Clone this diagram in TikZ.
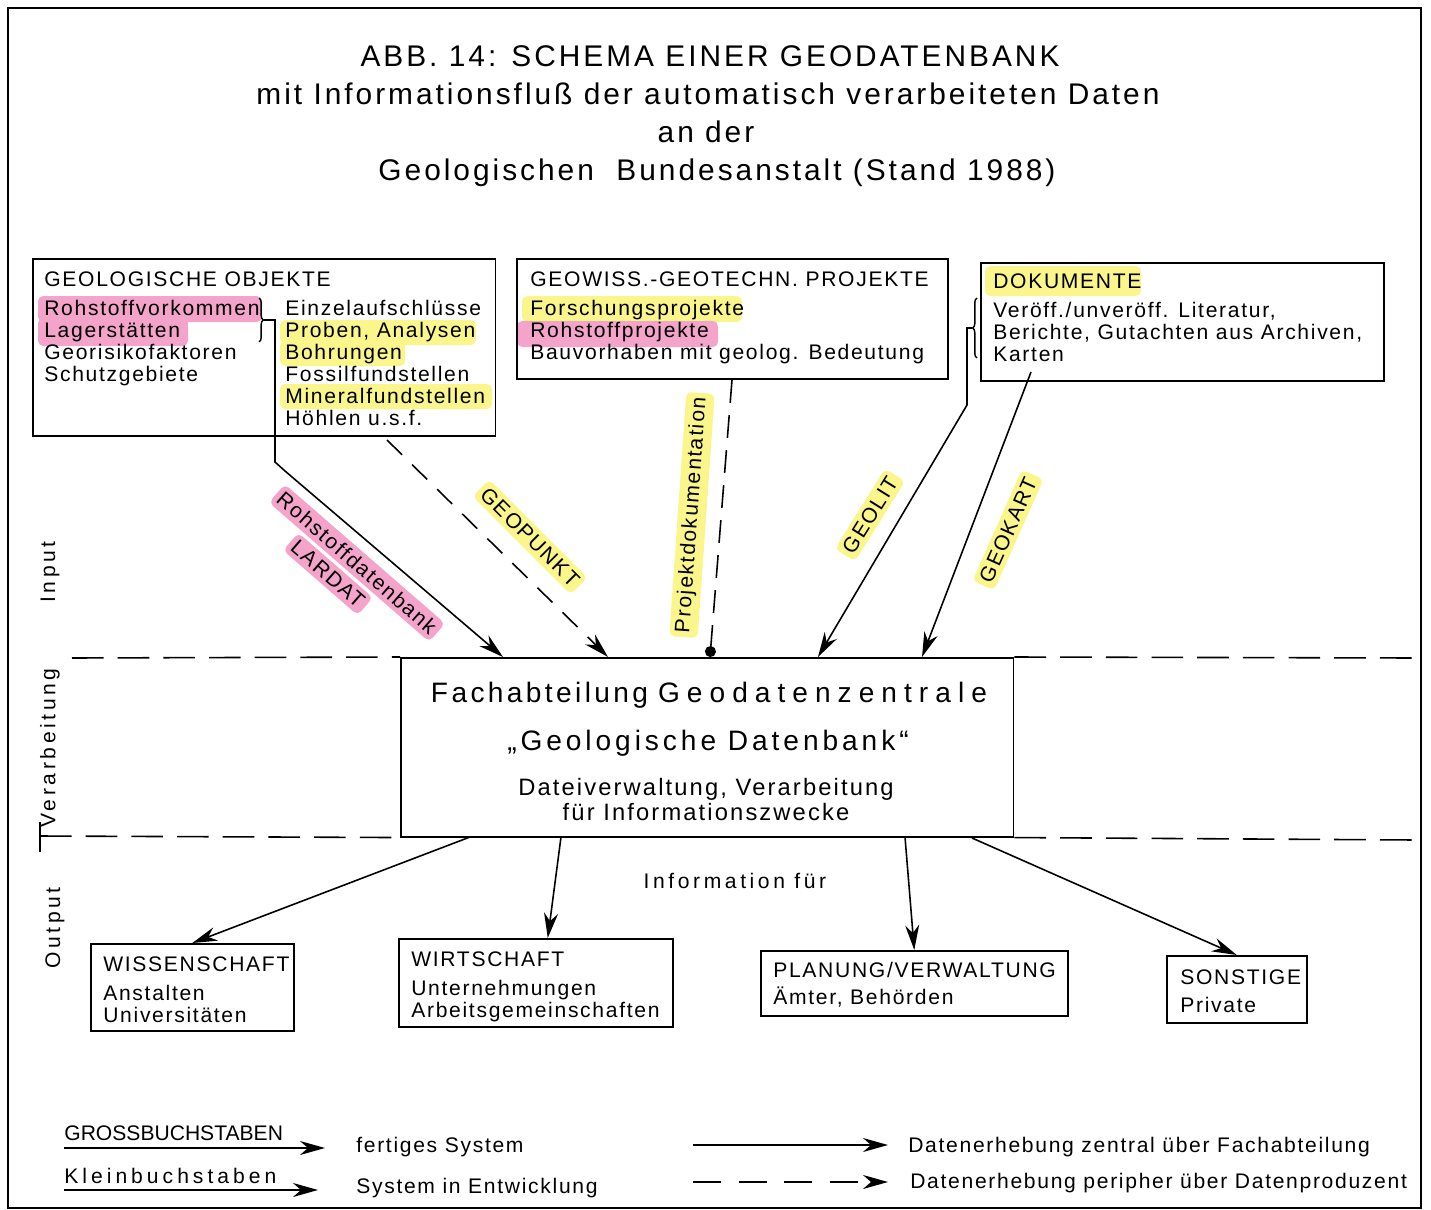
\documentclass[tikz,border=0pt]{standalone}
\usepackage{fontspec}
\setmainfont{Liberation Sans}[LetterSpace=8]
\usetikzlibrary{arrows.meta,positioning,decorations.pathreplacing}

\definecolor{hlpink}{RGB}{244,163,203}
\definecolor{hlyellow}{RGB}{250,246,140}

\newcommand{\spaced}[2]{{\addfontfeatures{LetterSpace=#1}#2}}

\begin{document}
\begin{tikzpicture}[
    x=0.02cm, y=-0.02cm,
    frame/.style={draw, line width=0.9pt, anchor=north west, inner sep=0pt},
    txt/.style={anchor=north west, align=left, inner sep=0pt,
        font=\fontsize{12}{12.5}\selectfont},
    heading/.style={anchor=base, inner sep=0pt,
        font=\fontsize{17}{20}\selectfont\addfontfeatures{LetterSpace=10}},
    centre/.style={anchor=base, inner sep=0pt},
    side/.style={rotate=90, inner sep=0pt,
        font=\fontsize{12}{14}\selectfont\addfontfeatures{LetterSpace=17}},
    legend/.style={anchor=base west, inner sep=0pt, font=\fontsize{12}{14}\selectfont},
    tag/.style={inner sep=2.5pt, rounded corners=3pt,
        font=\fontsize{12}{13}\selectfont},
    flow/.style={-{Stealth[length=5mm,width=2.8mm,inset=1.6mm]}, line width=0.9pt},
    periph/.style={flow, dash pattern=on 12pt off 8pt},
    divider/.style={line width=0.9pt, dash pattern=on 18pt off 8pt},
    hl/.style={rounded corners=3pt}
]
\useasboundingbox (0,0) rectangle (1431,1210);
\draw[line width=1.5pt] (8,8) rectangle (1421,1208);

% heading
\node[heading] (title-a) at (710,66) {ABB. 14: SCHEMA EINER GEODATENBANK};
\node[heading] (title-b) at (708,104) {mit Informationsfluß der automatisch verarbeiteten Daten};
\node[heading] (title-c) at (706,142) {an der};
\node[heading] (title-d) at (717,180) {Geologischen \ Bundesanstalt (Stand 1988)};

% marker strokes
\fill[hlpink, hl] (38,296) rectangle (262,322);
\fill[hlpink, hl] (38,318) rectangle (188,346);
\fill[hlyellow, hl] (280,320) rectangle (476,345);
\fill[hlyellow, hl] (280,341) rectangle (405,366);
\fill[hlyellow, hl] (280,384) rectangle (492,409);
\fill[hlyellow, hl] (522,296) rectangle (742,322);
\fill[hlpink, hl] (517,321) rectangle (718,347);
\fill[hlyellow, hl] (985,266) rectangle (1141,296);

% input boxes
\node[frame, minimum width=9.26cm, minimum height=3.54cm] (objekte) at (32,258) {};
\node[txt] (objekte-head) at (44,271) {GEOLOGISCHE OBJEKTE};
\node[txt] (objekte-left) at (44,300) {Rohstoffvorkommen\\Lagerstätten\\Georisikofaktoren\\Schutzgebiete};
\node[txt] (objekte-right) at (285,300) {Einzelaufschlüsse\\Proben, Analysen\\Bohrungen\\Fossilfundstellen\\Mineralfundstellen\\Höhlen u.s.f.};

\node[frame, minimum width=8.62cm, minimum height=2.4cm] (projekte) at (516,258) {};
\node[txt] (projekte-head) at (530,271) {GEOWISS.-GEOTECHN. PROJEKTE};
\node[txt] (projekte-list) at (530,300) {Forschungsprojekte\\Rohstoffprojekte\\Bauvorhaben mit geolog. Bedeutung};

\node[frame, minimum width=8.06cm, minimum height=2.36cm] (dokumente) at (980,262) {};
\node[txt] (dokumente-head) at (993,273) {DOKUMENTE};
\node[txt] (dokumente-list) at (993,302) {Veröff./unveröff. Literatur,\\Berichte, Gutachten aus Archiven,\\Karten};

% central unit
\node[frame, minimum width=12.26cm, minimum height=3.58cm] (zentrale) at (400,657) {};
\node[centre, font=\fontsize{16}{18}\selectfont] (zentrale-a) at (709,702)
    {\spaced{12}{Fachabteilung} \spaced{25}{Geodatenzentrale}};
\node[centre, font=\fontsize{16}{18}\selectfont\addfontfeatures{LetterSpace=14}] (zentrale-b) at (708,750)
    {„Geologische Datenbank“};
\node[centre, font=\fontsize{13.5}{16}\selectfont\addfontfeatures{LetterSpace=9}] (zentrale-c) at (706,795)
    {Dateiverwaltung, Verarbeitung};
\node[centre, font=\fontsize{13.5}{16}\selectfont\addfontfeatures{LetterSpace=9}] (zentrale-d) at (706,820)
    {für Informationszwecke};

% output boxes
\node[frame, minimum width=4.06cm, minimum height=1.74cm] (wissenschaft) at (90,943) {};
\node[txt] (wissenschaft-head) at (103,956) {WISSENSCHAFT};
\node[txt] (wissenschaft-list) at (103,985) {Anstalten\\Universitäten};

\node[frame, minimum width=5.48cm, minimum height=1.76cm] (wirtschaft) at (398,938) {};
\node[txt] (wirtschaft-head) at (411,951) {WIRTSCHAFT};
\node[txt] (wirtschaft-list) at (411,980) {Unternehmungen\\Arbeitsgemeinschaften};

\node[frame, minimum width=6.14cm, minimum height=1.3cm] (planung) at (760,950) {};
\node[txt] (planung-head) at (773,962) {PLANUNG/VERWALTUNG};
\node[txt] (planung-list) at (773,986) {Ämter, Behörden};

\node[frame, minimum width=2.8cm, minimum height=1.34cm] (sonstige) at (1166,955) {};
\node[txt] (sonstige-head) at (1180,969) {SONSTIGE};
\node[txt] (sonstige-list) at (1180,997) {Private};

\node[centre, font=\fontsize{12}{14}\selectfont\addfontfeatures{LetterSpace=17}] (info) at (735,888) {Information für};

% phase labels and dividers
\node[side] (lbl-input) at (50,572) {Input};
\node[side] (lbl-verarb) at (50,748) {Verarbeitung};
\node[side] (lbl-output) at (55,928) {Output};
\draw[divider] (72,658) -- (zentrale.north west);
\draw[divider] (zentrale.north east) -- (1415,658);
\draw[divider] (40,836) -- (zentrale.south west);
\draw[divider] (zentrale.south east) -- (1415,840);
\draw[line width=0.8pt] (40,822) -- (40,852);

% braces
\draw[decorate, decoration={brace, amplitude=2.5pt}, line width=0.8pt] (259,298) -- (259,342);
\draw[decorate, decoration={brace, amplitude=2.5pt}, line width=0.8pt] (977,358) -- (977,298);

% attachment points
\coordinate (brace-obj) at (264,320);
\coordinate (brace-dok) at (972,328);
\coordinate (out-geopunkt) at (387,440);
\coordinate (out-projdok) at (732,380);
\coordinate (out-karten) at (1031,372);
\coordinate (in-lardat) at (503,657);
\coordinate (in-geopunkt) at (608,657);
\coordinate (in-projdok) at (710,657);
\coordinate (in-geolit) at (818,657);
\coordinate (in-geokart) at (922,657);
\coordinate (out-wiss) at (470,837);
\coordinate (out-wirt) at (561,837);
\coordinate (out-plan) at (905,837);
\coordinate (out-sonst) at (972,838);

% input flows
\draw[flow] (brace-obj) -- (275,320) -- (275,462) -- (285,471) -- (in-lardat);
\draw[periph] (out-geopunkt) -- (in-geopunkt);
\draw[line width=0.9pt, dash pattern=on 13pt off 7pt, -{Circle[length=2.2mm]}] (out-projdok) -- (in-projdok);
\draw[flow] (brace-dok) -- (967,328) -- (967,405) -- (in-geolit);
\draw[flow] (out-karten) -- (in-geokart);

\node[tag, fill=hlpink, rotate=-41] (rohstoffdb) at (357,563) {Rohstoffdatenbank};
\node[tag, fill=hlpink, rotate=-41] (lardat) at (328,574) {LARDAT};
\node[tag, fill=hlyellow, rotate=-45] (geopunkt) at (530,537) {GEOPUNKT};
\node[tag, fill=hlyellow, rotate=86] (projdok) at (692,515) {Projektdokumentation};
\node[tag, fill=hlyellow, rotate=58] (geolit) at (870,515) {GEOLIT};
\node[tag, fill=hlyellow, rotate=66] (geokart) at (1008,530) {GEOKART};

% output flows
\draw[flow] (out-wiss) -- (wissenschaft.north);
\draw[flow] (out-wirt) -- (wirtschaft.75);
\draw[flow] (out-plan) -- (planung.north);
\draw[flow] (out-sonst) -- (sonstige.north);

% key
\node[legend] (key-gross) at (64,1140) {\spaced{0}{GROSSBUCHSTABEN}};
\node[legend] (key-klein) at (64,1183) {\spaced{19}{Kleinbuchstaben}};
\node[legend] (key-fertig) at (356,1152) {fertiges System};
\node[legend] (key-entw) at (356,1193) {System in Entwicklung};
\node[legend] (key-zentral) at (908,1152) {Datenerhebung zentral über Fachabteilung};
\node[legend] (key-peripher) at (910,1188) {Datenerhebung peripher über Datenproduzent};
\draw[flow] (64,1148) -- (325,1148);
\draw[flow] (64,1190) -- (318,1190);
\draw[flow] (693,1145) -- (888,1145);
\draw[flow, dash pattern=on 16pt off 10pt] (693,1182) -- (888,1182);
\end{tikzpicture}
\end{document}
